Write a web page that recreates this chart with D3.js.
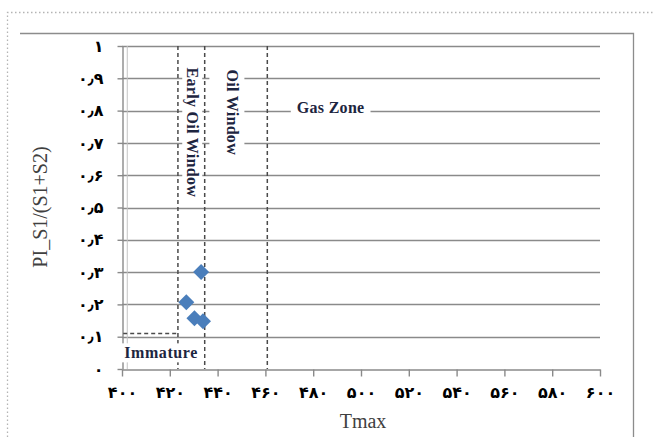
<!DOCTYPE html>
<html>
<head>
<meta charset="utf-8">
<script src="https://cdn.jsdelivr.net/npm/d3@7"></script>
<style>
  html, body { margin: 0; padding: 0; background: #fff; }
  svg { display: block; }
</style>
</head>
<body>
<svg id="chart" width="654" height="437"></svg>
<script>
// Samples: Tmax (°C) against production index PI = S1/(S1+S2)
const tmax = [426.9, 430.3, 433.1, 433.9];
const pi   = [0.207, 0.157, 0.300, 0.148];

// Axis ticks
const xTicks = [400, 420, 440, 460, 480, 500, 520, 540, 560, 580, 600];
const yTicks = [0, 0.1, 0.2, 0.3, 0.4, 0.5, 0.6, 0.7, 0.8, 0.9, 1];

// Maturity zone boundaries on Tmax, and the immature PI ceiling
const zoneBounds = [423.4, 434.6, 460.8];
const immaturePI = 0.11;

// Zone labels and their anchor positions (Tmax, PI)
const zoneNames = ["Early Oil Window", "Oil Window", "Gas Zone", "Immature"];
const zoneTmax  = [429.6, 446.4, 487.3, 400.9];
const zonePI    = [0.733, 0.795, 0.810, 0.05];

const faDigits = "۰۱۲۳۴۵۶۷۸۹";
const toFa = v => String(v).replace(".", "٫").replace(/\d/g, d => faDigits[+d]);

const svg = d3.select("#chart");

// page frame (dotted) and chart frame
svg.append("path")
  .attr("d", "M7.5,437 V12.5 H654")
  .attr("fill", "none").attr("stroke", "#b4b4b4")
  .attr("stroke-width", 1.3).attr("stroke-dasharray", "1.5,2.5");
svg.append("path")
  .attr("d", "M20,33.5 H633.5 V437")
  .attr("fill", "none").attr("stroke", "#8c8c8c").attr("stroke-width", 1.3);

const x = d3.scaleLinear().domain([400, 600]).range([122, 600]);
const y = d3.scaleLinear().domain([0, 1]).range([369, 46]);

// horizontal gridlines
svg.append("g").selectAll("line")
  .data(yTicks.filter(v => v > 0))
  .join("line")
  .attr("x1", x(400)).attr("x2", x(600))
  .attr("y1", d => Math.round(y(d)) + 0.5).attr("y2", d => Math.round(y(d)) + 0.5)
  .attr("stroke", "#8a8a8a").attr("stroke-width", 1.4);

// faint inner edge next to the value axis
svg.append("line")
  .attr("x1", x(402.2)).attr("x2", x(402.2))
  .attr("y1", y(1)).attr("y2", y(0))
  .attr("stroke", "#c4c4c4").attr("stroke-width", 1);

// axes
const tickFont = g => g.selectAll("text")
  .attr("font-family", "'DejaVu Sans', sans-serif")
  .attr("font-weight", "bold").attr("font-size", 16).attr("fill", "#000");
const axisStroke = g => {
  g.select(".domain").attr("stroke", "#8a8a8a").attr("stroke-width", 1.4);
  g.selectAll(".tick line").attr("stroke", "#8a8a8a").attr("stroke-width", 1.4);
};

svg.append("g")
  .attr("transform", `translate(0,${Math.round(y(0)) + 0.5})`)
  .call(d3.axisBottom(x).tickValues(xTicks).tickSize(7).tickSizeOuter(0)
        .tickPadding(10).tickFormat(toFa))
  .call(axisStroke).call(tickFont);

svg.append("g")
  .attr("transform", `translate(${Math.round(x(400)) + 0.5},0)`)
  .call(d3.axisLeft(y).tickValues(yTicks).tickSize(5).tickSizeOuter(0)
        .tickPadding(14).tickFormat(toFa))
  .call(axisStroke).call(tickFont);

// zone boundary lines
const dashStyle = sel => sel.attr("stroke", "#4a4a4a")
  .attr("stroke-width", 1.5).attr("stroke-dasharray", "4,3");
const bounds = svg.append("g");
bounds.selectAll("line").data(zoneBounds).join("line")
  .attr("x1", d => x(d)).attr("x2", d => x(d))
  .attr("y1", y(1)).attr("y2", y(0))
  .call(dashStyle);
bounds.append("line")
  .attr("x1", x(400.5)).attr("x2", x(zoneBounds[0]))
  .attr("y1", y(immaturePI)).attr("y2", y(immaturePI))
  .call(dashStyle);

// zone labels on white boxes
const labels = svg.append("g");
zoneNames.forEach((name, i) => {
  const rotated = i < 2;
  const g = labels.append("g")
    .attr("transform", `translate(${x(zoneTmax[i])},${y(zonePI[i])})${rotated ? " rotate(90)" : ""}`);
  const box = g.append("rect").attr("fill", "#fff");
  const t = g.append("text")
    .attr("text-anchor", i === 3 ? "start" : "middle")
    .attr("dominant-baseline", "central")
    .attr("font-family", "'Liberation Serif', 'Times New Roman', serif")
    .attr("font-weight", "bold").attr("font-size", 16)
    .attr("letter-spacing", i === 3 ? 0.6 : 0.3)
    .attr("fill", "#1d2540")
    .text(name);
  const b = t.node().getBBox();
  const padX = i === 1 ? 3 : 6, padY = i === 1 ? 3 : 1;
  box.attr("x", b.x - padX).attr("y", b.y - padY)
     .attr("width", b.width + padX * 2)
     .attr("height", b.height + padY * 2 + (i === 1 ? 12 : 0));
});

// samples
const diamond = "M0,-8 L8,0 L0,8 L-8,0 Z";
svg.append("g").selectAll("path")
  .data(tmax.map((t, i) => [t, pi[i]]))
  .join("path")
  .attr("d", diamond)
  .attr("transform", d => `translate(${x(d[0])},${y(d[1])})`)
  .attr("fill", "#4a7ebb");

// axis titles
svg.append("text")
  .attr("x", 363).attr("y", 428)
  .attr("text-anchor", "middle")
  .attr("font-family", "'Liberation Serif', 'Times New Roman', serif")
  .attr("font-size", 20).attr("fill", "#404040")
  .text("Tmax");
svg.append("text")
  .attr("transform", "translate(47,207) rotate(-90)")
  .attr("text-anchor", "middle")
  .attr("font-family", "'Liberation Serif', 'Times New Roman', serif")
  .attr("font-size", 20).attr("fill", "#404040")
  .text("PI_S1/(S1+S2)");
</script>
</body>
</html>
